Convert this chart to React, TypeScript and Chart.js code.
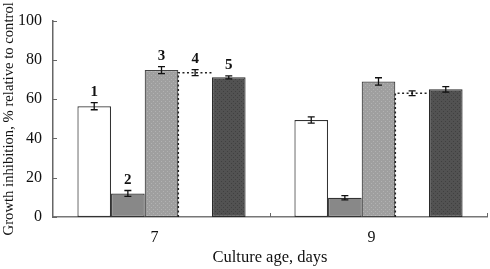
import React, { useEffect, useRef } from "react";
import { Chart, registerables } from "chart.js";

Chart.register(...registerables);

const categories = ["7", "9"];
const series1 = [56.4, 49.4];
const series2 = [12.0, 9.8];
const series3 = [74.8, 69.0];
const series4 = [73.5, 63.0];
const series5 = [71.1, 65.0];
const errors1 = [1.8, 1.6];
const errors2 = [1.5, 1.1];
const errors3 = [1.8, 1.9];
const errors4 = [1.5, 1.2];
const errors5 = [0.8, 1.4];
const barLabels = ["1", "2", "3", "4", "5"];
const yTicks = [0, 20, 40, 60, 80, 100];

const SERIF = "'Liberation Serif', 'Times New Roman', serif";

function makePattern(base: string, dot: string, size: number) {
  const c = document.createElement("canvas");
  c.width = size;
  c.height = size;
  const g = c.getContext("2d")!;
  g.fillStyle = base;
  g.fillRect(0, 0, size, size);
  g.fillStyle = dot;
  g.fillRect(1, 1, 1, 1);
  g.fillRect(3, 3, 1, 1);
  const ctx = document.createElement("canvas").getContext("2d")!;
  return ctx.createPattern(c, "repeat")!;
}

export default function App() {
  const ref = useRef<HTMLCanvasElement>(null);

  useEffect(() => {
    const canvas = ref.current!;
    const allErrors = [errors1, errors2, errors3, errors4, errors5];

    const decorPlugin = {
      id: "decor",
      afterDatasetsDraw(chart: any) {
        const ctx = chart.ctx;
        const y = chart.scales.y;
        const x = chart.scales.x;
        const area = chart.chartArea;
        ctx.save();
        // dotted outline for series 4
        const m4 = chart.getDatasetMeta(3);
        ctx.strokeStyle = "#222";
        ctx.lineWidth = 1.5;
        ctx.setLineDash([2, 2.5]);
        m4.data.forEach((el: any) => {
          const left = el.x - el.width / 2;
          const right = el.x + el.width / 2;
          ctx.beginPath();
          ctx.moveTo(left, el.base);
          ctx.lineTo(left, el.y);
          ctx.lineTo(right, el.y);
          ctx.stroke();
        });
        ctx.setLineDash([]);
        // error bars
        ctx.strokeStyle = "#111";
        ctx.lineWidth = 1.3;
        chart.data.datasets.forEach((ds: any, di: number) => {
          const meta = chart.getDatasetMeta(di);
          meta.data.forEach((el: any, i: number) => {
            const v = ds.data[i];
            const e = allErrors[di][i];
            const yt = y.getPixelForValue(v + e);
            const yb = y.getPixelForValue(v - e);
            ctx.beginPath();
            ctx.moveTo(el.x, yt);
            ctx.lineTo(el.x, yb);
            ctx.moveTo(el.x - 3.5, yt);
            ctx.lineTo(el.x + 3.5, yt);
            ctx.moveTo(el.x - 3.5, yb);
            ctx.lineTo(el.x + 3.5, yb);
            ctx.stroke();
          });
        });
        // number labels over the first group
        ctx.fillStyle = "#111";
        ctx.font = `bold 15px ${SERIF}`;
        ctx.textAlign = "center";
        ctx.textBaseline = "bottom";
        chart.data.datasets.forEach((ds: any, di: number) => {
          const el = chart.getDatasetMeta(di).data[0];
          const yt = y.getPixelForValue(ds.data[0] + allErrors[di][0]);
          ctx.fillText(barLabels[di], el.x, yt - 3);
        });
        // inward tick marks
        ctx.strokeStyle = "#666";
        ctx.lineWidth = 1;
        yTicks.forEach((t) => {
          const py = Math.round(y.getPixelForValue(t)) + 0.5;
          ctx.beginPath();
          ctx.moveTo(area.left, py);
          ctx.lineTo(area.left + 4, py);
          ctx.stroke();
        });
        const catW = (area.right - area.left) / categories.length;
        for (let i = 1; i <= categories.length; i++) {
          const px = Math.round(x.getPixelForValue(i - 1) + catW / 2) + 0.5;
          ctx.beginPath();
          ctx.moveTo(px, area.bottom);
          ctx.lineTo(px, area.bottom - 4);
          ctx.stroke();
        }
        ctx.restore();
      },
    };

    const pat3 = makePattern("#9f9f9f", "#b2b2b2", 4);
    const pat5 = makePattern("#525252", "#404040", 4);

    const chart = new Chart(canvas, {
      type: "bar",
      data: {
        labels: categories,
        datasets: [
          { data: series1, backgroundColor: "#ffffff", borderColor: "#333", borderWidth: 1.2 },
          { data: series2, backgroundColor: "#888888", borderColor: "#333", borderWidth: 1.2 },
          { data: series3, backgroundColor: pat3 as any, borderColor: "#444", borderWidth: 1.2 },
          { data: series4, backgroundColor: "rgba(255,255,255,0)", borderWidth: 0 },
          { data: series5, backgroundColor: pat5 as any, borderColor: "#2a2a2a", borderWidth: 1.2 },
        ],
      },
      options: {
        animation: false,
        responsive: false,
        maintainAspectRatio: false,
        layout: { padding: { left: 0, top: 15, right: 3, bottom: 0 } },
        plugins: { legend: { display: false }, tooltip: { enabled: false } },
        datasets: { bar: { categoryPercentage: 0.775, barPercentage: 1.0, borderSkipped: false } },
        scales: {
          x: {
            grid: { display: false, drawTicks: false },
            border: { display: true, color: "#777", width: 1.5 },
            ticks: {
              color: "#111",
              font: { family: SERIF, size: 16 },
              padding: 11,
              labelOffset: -7,
            },
            title: {
              display: true,
              text: "Culture age, days",
              color: "#111",
              font: { family: SERIF, size: 16.5 },
              padding: { top: 0, bottom: 1 },
            },
            afterFit(s: any) {
              s.height = 52;
            },
          },
          y: {
            min: 0,
            max: 100,
            grid: { display: false, drawTicks: false },
            border: { display: true, color: "#666", width: 1.5 },
            ticks: {
              stepSize: 20,
              color: "#111",
              font: { family: SERIF, size: 16 },
              padding: 11,
            },
            title: {
              display: true,
              text: "Growth inhibition, % relative to control",
              color: "#111",
              font: { family: SERIF, size: 14.7 },
              padding: 0,
            },
            afterFit(s: any) {
              s.width = 53;
            },
          },
        },
      },
      plugins: [decorPlugin],
    });

    return () => chart.destroy();
  }, []);

  return (
    <div style={{ position: "fixed", left: 0, top: 0, width: 490, height: 269, background: "#fff" }}>
      <canvas ref={ref} width={490} height={269} style={{ display: "block" }} />
    </div>
  );
}
